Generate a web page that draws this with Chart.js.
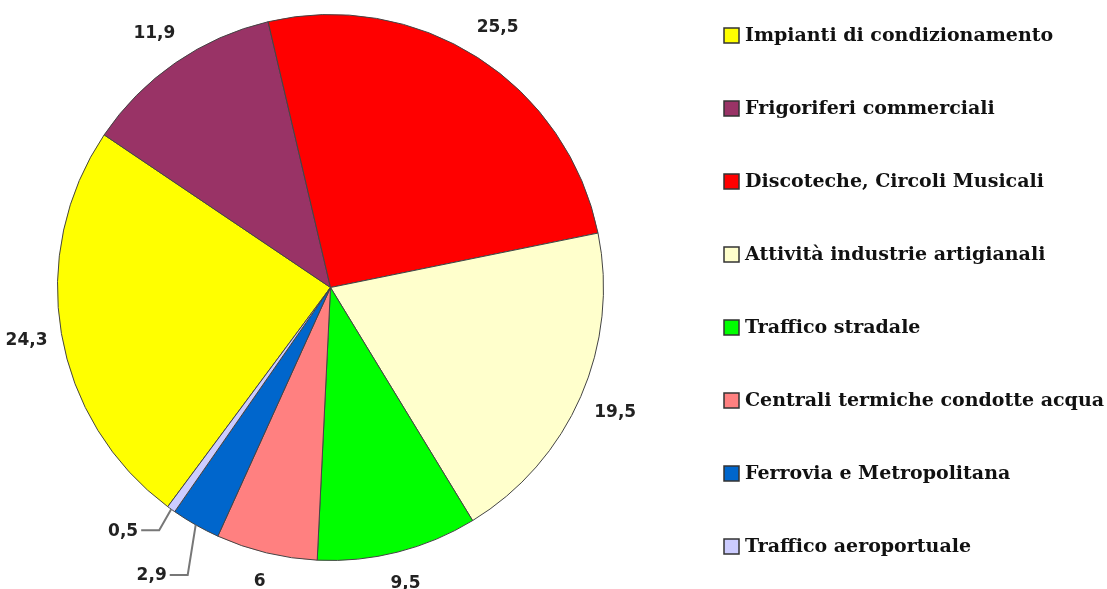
<!DOCTYPE html>
<html>
<head>
<meta charset="utf-8">
<script src="https://cdn.jsdelivr.net/npm/chart.js@4/dist/chart.umd.min.js"></script>
<style>
  body { margin: 0; background: #fff; }
</style>
</head>
<body>
<canvas id="pie" width="1107" height="589"></canvas>
<script>
const categories = [
    "Impianti di condizionamento",
    "Frigoriferi commerciali",
    "Discoteche, Circoli Musicali",
    "Attività industrie artigianali",
    "Traffico stradale",
    "Centrali termiche condotte acqua",
    "Ferrovia e Metropolitana",
    "Traffico aeroportuale"
];
const values = [24.3, 11.9, 25.5, 19.5, 9.5, 6, 2.9, 0.5];
const colors = ["#ffff00", "#993366", "#ff0000", "#ffffcc", "#00ff00", "#ff8080", "#0066cc", "#ccccff"];

const fmt = v => String(v).replace(".", ",");

// value labels outside the pie, with leader lines for the thin slices
const outsideLabels = {
    id: "outsideLabels",
    afterDatasetsDraw(chart) {
        const ctx = chart.ctx;
        const arcs = chart.getDatasetMeta(0).data;
        // elbow offsets for leader lines, in slice order
        const leaders = [[-8, 50], [-12, 21]];
        let leaderIdx = 0;
        ctx.save();
        ctx.font = "bold 17px 'DejaVu Sans'";
        ctx.fillStyle = "#222";
        ctx.textBaseline = "middle";
        arcs.forEach((arc, i) => {
            const { x, y, startAngle, endAngle, outerRadius } = arc.getProps(["x", "y", "startAngle", "endAngle", "outerRadius"], true);
            const mid = (startAngle + endAngle) / 2;
            const cos = Math.cos(mid), sin = Math.sin(mid);
            const text = fmt(values[i]);
            const w = ctx.measureText(text).width;
            if (values[i] < 4) {
                const [ox, oy] = leaders[leaderIdx++] || [-10, 30];
                const ex = x + outerRadius * cos, ey = y + outerRadius * sin;
                const bx = ex + ox, by = ey + oy;
                const dir = cos < 0 ? -1 : 1;
                const hx = bx + dir * 18;
                ctx.strokeStyle = "#777";
                ctx.lineWidth = 2;
                ctx.beginPath();
                ctx.moveTo(ex, ey);
                ctx.lineTo(bx, by);
                ctx.lineTo(hx, by);
                ctx.stroke();
                ctx.textAlign = dir < 0 ? "right" : "left";
                ctx.fillText(text, hx + dir * 3, by + 1);
            } else {
                const r = outerRadius + 12 + Math.abs(cos) * w / 2 + Math.abs(sin) * 16;
                ctx.textAlign = "center";
                ctx.fillText(text, x + r * cos, y + r * sin + 1);
            }
        });
        ctx.restore();
    }
};

// legend drawn at the right with wide row spacing
const sideLegend = {
    id: "sideLegend",
    afterDraw(chart) {
        const ctx = chart.ctx;
        ctx.save();
        ctx.font = "bold 19px 'DejaVu Serif'";
        ctx.textBaseline = "middle";
        ctx.textAlign = "left";
        categories.forEach((name, i) => {
            const cy = 35 + i * 73;
            ctx.fillStyle = colors[i];
            ctx.fillRect(724, cy - 7, 15, 15);
            ctx.strokeStyle = "#333";
            ctx.lineWidth = 1.5;
            ctx.strokeRect(724, cy - 7, 15, 15);
            ctx.fillStyle = "#111";
            ctx.fillText(name, 745, cy + 1);
        });
        ctx.restore();
    }
};

new Chart(document.getElementById("pie").getContext("2d"), {
    type: "pie",
    data: {
        labels: categories,
        datasets: [
            {
                data: values,
                backgroundColor: colors,
                borderColor: "#444",
                borderWidth: 1,
                hoverOffset: 0
            }
        ]
    },
    options: {
        responsive: false,
        animation: false,
        rotation: 216.6,
        layout: { padding: { left: 57, top: 14, right: 503, bottom: 28 } },
        plugins: {
            legend: { display: false },
            tooltip: { enabled: false }
        }
    },
    plugins: [outsideLabels, sideLegend]
});
</script>
</body>
</html>
